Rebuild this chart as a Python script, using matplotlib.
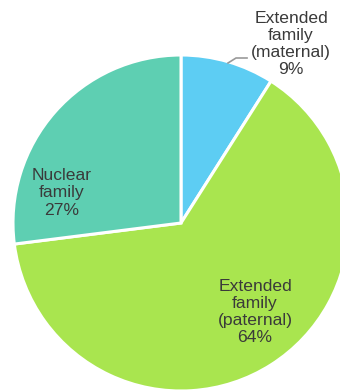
import matplotlib
matplotlib.use("Agg")
import matplotlib.pyplot as plt

plt.rcParams["font.family"] = ["Liberation Sans", "DejaVu Sans"]

LABELS = ["Extended\nfamily\n(maternal)", "Extended\nfamily\n(paternal)", "Nuclear\nfamily"]
SHARES = [9, 64, 27]
COLORS = ["#5dcdf3", "#a9e54f", "#5ecfb2"]

W, H = 340, 390
fig = plt.figure(figsize=(W / 100, H / 100), dpi=100)
ax = fig.add_axes([0, 0, 1, 1])

cx, cy, r = 181, H - 223, 168
ax.pie(SHARES, colors=COLORS, startangle=90, counterclock=False,
       center=(cx, cy), radius=r, frame=True,
       wedgeprops=dict(edgecolor="white", linewidth=2.2))
ax.set_xlim(0, W); ax.set_ylim(0, H)
ax.set_aspect("equal"); ax.axis("off")

txt = dict(ha="center", va="center", fontsize=12.6, color="#3a3a3a", linespacing=1.18)
pos = [(291, H - 44), (255, H - 312), (62, H - 193)]
for lab, s, (x, y) in zip(LABELS, SHARES, pos):
    ax.text(x, y, f"{lab}\n{s}%", **txt)

# leader line for the small slice
ax.plot([228, 236, 247], [H - 63, H - 58, H - 58], color="#999999", lw=1.2)

fig.savefig("out.png", dpi=100)
